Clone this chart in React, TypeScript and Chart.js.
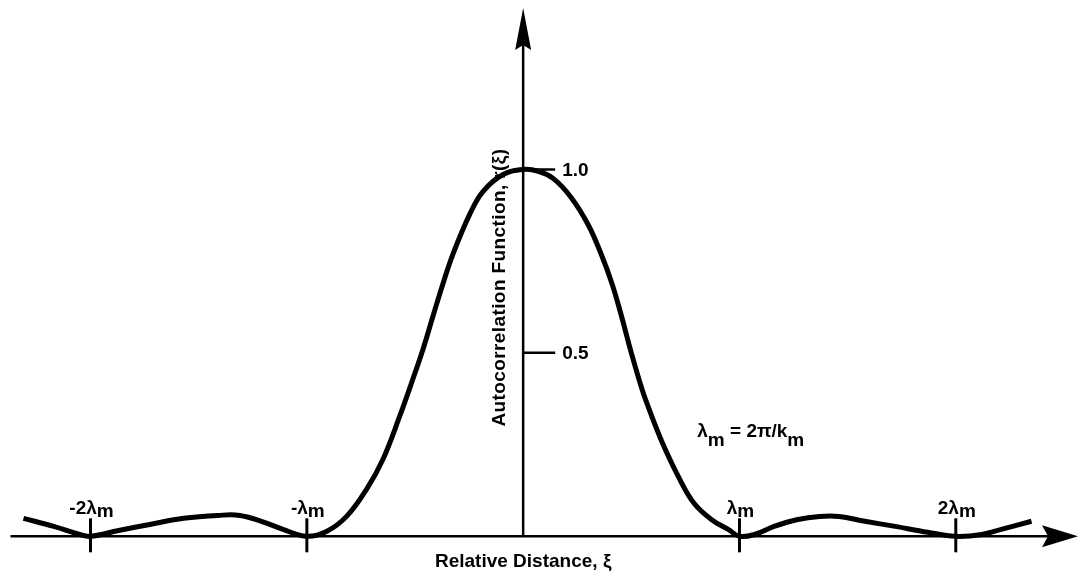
import { useEffect, useRef } from "react";
import { Chart, registerables } from "chart.js";

Chart.register(...registerables);

// Relative distance in units of lambda_m
const xiValues = [
  -2.31, -2.17, -2.05, -2.0, -1.87, -1.72, -1.57, -1.41, -1.31, -1.21, -1.11, -1.0,
  -0.907, -0.815, -0.722, -0.648, -0.569, -0.509, -0.463, -0.417, -0.37, -0.324,
  -0.245, -0.185, -0.093, 0, 0.07, 0.14, 0.22, 0.3, 0.36, 0.41, 0.45, 0.5, 0.55, 0.58,
  0.64, 0.72, 0.79, 0.87, 0.95, 1.0, 1.07, 1.16, 1.27, 1.37, 1.46, 1.58, 1.72,
  1.87, 2.0, 2.12, 2.21, 2.35,
];
// Autocorrelation function r(xi)
const rValues = [
  0.049, 0.027, 0.005, 0.0, 0.016, 0.033, 0.049, 0.057, 0.057, 0.041, 0.019, 0.0,
  0.014, 0.055, 0.13, 0.21, 0.33, 0.43, 0.51, 0.6, 0.69, 0.77,
  0.88, 0.94, 0.986, 1.0, 0.995, 0.975, 0.925, 0.85, 0.77, 0.69, 0.61, 0.5, 0.4, 0.35,
  0.26, 0.16, 0.09, 0.046, 0.018, 0.0, 0.005, 0.027, 0.046, 0.054, 0.054, 0.041, 0.027,
  0.011, 0.0, 0.005, 0.019, 0.041,
];

const xTickValues = [-2, -1, 1, 2];
const xTickLabels = ["-2λ", "-λ", "λ", "2λ"];
const xTickSub = "m";
const yTickValues = [0.5, 1.0];
const yTickLabels = ["0.5", "1.0"];

const xAxisTitle = "Relative Distance, ξ";
const yAxisTitle = "Autocorrelation Function, r(ξ)";

const X_MIN = -2.4;
const X_MAX = 2.565;
const Y_MIN = -0.1;
const Y_MAX = 1.44;
const X_AXIS_START = -2.37;

const FONT = '"Liberation Sans", Arial, Helvetica, sans-serif';

type Part = [string, boolean];

function drawParts(
  ctx: CanvasRenderingContext2D,
  parts: Part[],
  x: number,
  y: number,
  size: number,
  align: "left" | "center",
  subOffset: number
) {
  ctx.font = `bold ${size}px ${FONT}`;
  const widths = parts.map(([t]) => ctx.measureText(t).width);
  const total = widths.reduce((a, b) => a + b, 0);
  let cx = align === "center" ? x - total / 2 : x;
  ctx.textAlign = "left";
  ctx.textBaseline = "alphabetic";
  parts.forEach(([t, sub], i) => {
    ctx.fillText(t, cx, sub ? y + subOffset : y);
    cx += widths[i];
  });
}

const axesPlugin = {
  id: "customAxes",
  beforeDatasetsDraw(chart: any) {
    const ctx: CanvasRenderingContext2D = chart.ctx;
    const xs = chart.scales.x;
    const ys = chart.scales.y;
    const x0 = xs.getPixelForValue(0);
    const y0 = ys.getPixelForValue(0);
    const xStart = xs.getPixelForValue(X_AXIS_START);
    const xEnd = xs.getPixelForValue(X_MAX);
    const yTop = ys.getPixelForValue(Y_MAX);
    ctx.save();
    ctx.strokeStyle = "#000";
    ctx.fillStyle = "#000";
    ctx.lineWidth = 2.5;
    ctx.lineCap = "butt";
    // x axis line
    ctx.beginPath();
    ctx.moveTo(xStart, y0);
    ctx.lineTo(xEnd - 20, y0);
    ctx.stroke();
    // x arrow
    ctx.beginPath();
    ctx.moveTo(xEnd, y0);
    ctx.lineTo(xEnd - 36, y0 - 11);
    ctx.lineTo(xEnd - 30, y0);
    ctx.lineTo(xEnd - 36, y0 + 11);
    ctx.closePath();
    ctx.fill();
    // y axis line
    ctx.beginPath();
    ctx.moveTo(x0, y0);
    ctx.lineTo(x0, yTop + 30);
    ctx.stroke();
    // y arrow
    ctx.beginPath();
    ctx.moveTo(x0, yTop);
    ctx.lineTo(x0 - 8, yTop + 42);
    ctx.lineTo(x0, yTop + 37);
    ctx.lineTo(x0 + 8, yTop + 42);
    ctx.closePath();
    ctx.fill();
    // x ticks
    ctx.lineWidth = 3;
    xTickValues.forEach((v) => {
      const px = xs.getPixelForValue(v);
      ctx.beginPath();
      ctx.moveTo(px, y0 - 18);
      ctx.lineTo(px, y0 + 16);
      ctx.stroke();
    });
    // y ticks
    ctx.lineWidth = 2.5;
    yTickValues.forEach((v) => {
      const py = ys.getPixelForValue(v);
      ctx.beginPath();
      ctx.moveTo(x0, py);
      ctx.lineTo(x0 + 32, py);
      ctx.stroke();
    });
    ctx.restore();
  },
  afterDraw(chart: any) {
    const ctx: CanvasRenderingContext2D = chart.ctx;
    const xs = chart.scales.x;
    const ys = chart.scales.y;
    const x0 = xs.getPixelForValue(0);
    const y0 = ys.getPixelForValue(0);
    ctx.save();
    ctx.fillStyle = "#000";
    // x tick labels
    xTickValues.forEach((v, i) => {
      const px = xs.getPixelForValue(v);
      drawParts(ctx, [[xTickLabels[i], false], [xTickSub, true]], px + 1, y0 - 22, 19, "center", 3);
    });
    // y tick labels
    ctx.font = `bold 19px ${FONT}`;
    ctx.textAlign = "left";
    ctx.textBaseline = "middle";
    yTickValues.forEach((v, i) => {
      const py = ys.getPixelForValue(v);
      ctx.fillText(yTickLabels[i], x0 + 39, py + 1);
    });
    // x axis title
    ctx.font = `bold 19px ${FONT}`;
    ctx.textAlign = "center";
    ctx.textBaseline = "middle";
    ctx.fillText(xAxisTitle, x0, y0 + 25);
    // y axis title
    ctx.save();
    ctx.translate(x0 - 23, ys.getPixelForValue(0.678));
    ctx.rotate(-Math.PI / 2);
    ctx.font = `bold 19px ${FONT}`;
    (ctx as any).letterSpacing = "0.4px";
    ctx.textAlign = "center";
    ctx.textBaseline = "middle";
    ctx.fillText(yAxisTitle, 0, 0);
    ctx.restore();
    // annotation
    drawParts(
      ctx,
      [
        ["λ", false],
        ["m", true],
        [" = 2π/k", false],
        ["m", true],
      ],
      xs.getPixelForValue(0.805),
      ys.getPixelForValue(0.272),
      19,
      "left",
      9
    );
    ctx.restore();
  },
};

export default function App() {
  const canvasRef = useRef<HTMLCanvasElement | null>(null);

  useEffect(() => {
    if (!canvasRef.current) return;
    const chart = new Chart(canvasRef.current, {
      type: "line",
      data: {
        datasets: [
          {
            data: xiValues.map((x, i) => ({ x, y: rValues[i] })),
            borderColor: "#000",
            borderWidth: 5,
            pointRadius: 0,
            fill: false,
            tension: 0.4,
          },
        ],
      },
      options: {
        animation: false,
        responsive: true,
        maintainAspectRatio: false,
        layout: { padding: { left: 4, right: 1, top: 8, bottom: 5 } },
        plugins: { legend: { display: false }, tooltip: { enabled: false } },
        scales: {
          x: { type: "linear", min: X_MIN, max: X_MAX, display: false },
          y: { type: "linear", min: Y_MIN, max: Y_MAX, display: false },
        },
      },
      plugins: [axesPlugin],
    });
    return () => chart.destroy();
  }, []);

  return (
    <div
      style={{
        position: "absolute",
        left: 0,
        top: 0,
        width: 1079,
        height: 578,
        background: "#fff",
      }}
    >
      <canvas ref={canvasRef} />
    </div>
  );
}
